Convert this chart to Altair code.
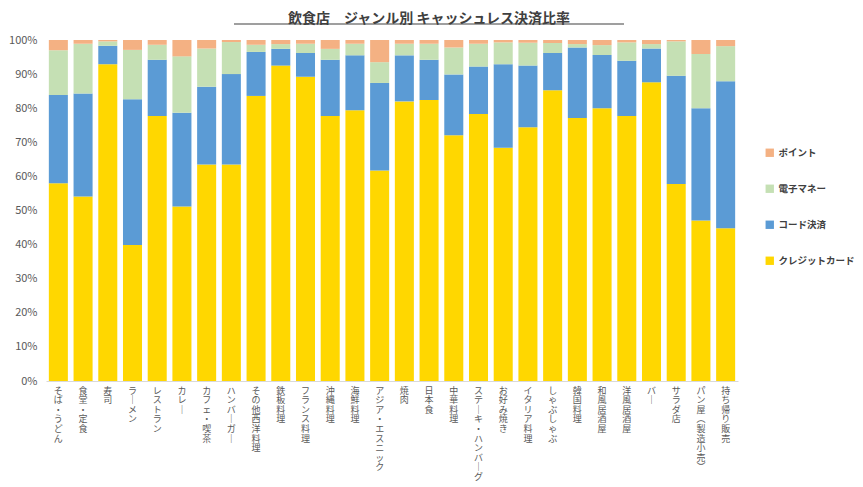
import pandas as pd
import altair as alt

FONT = "Noto Sans CJK JP"

genres = [
    "そば・うどん", "食堂・定食", "寿司", "ラーメン", "レストラン", "カレー",
    "カフェ・喫茶", "ハンバーガー", "その他西洋料理", "鉄板料理", "フランス料理",
    "沖縄料理", "海鮮料理", "アジア・エスニック", "焼肉", "日本食", "中華料理",
    "ステーキ・ハンバーグ", "お好み焼き", "イタリア料理", "しゃぶしゃぶ", "韓国料理",
    "和風居酒屋", "洋風居酒屋", "バー", "サラダ店", "パン屋（製造小売）", "持ち帰り販売",
]

# shares in %
credit = [58.0, 54.1, 92.9, 39.9, 77.7, 51.2, 63.5, 63.5, 83.6, 92.5, 89.2, 77.7, 79.4, 61.7,
          82.0, 82.4, 72.1, 78.3, 68.4, 74.4, 85.3, 77.1, 80.0, 77.7, 87.6, 57.8, 47.1, 44.8]
code = [25.9, 30.2, 5.4, 42.7, 16.5, 27.5, 22.8, 26.5, 12.9, 4.9, 7.0, 16.5, 16.1, 25.7,
        13.5, 11.8, 17.8, 13.9, 24.5, 18.1, 10.9, 20.7, 15.6, 16.2, 9.9, 31.7, 32.9, 43.1]
emoney = [13.1, 14.6, 1.3, 14.5, 4.4, 16.5, 11.2, 9.4, 2.1, 1.4, 2.7, 3.2, 3.4, 6.1,
          3.4, 4.7, 7.9, 6.7, 6.4, 6.7, 2.9, 1.0, 2.9, 5.4, 1.3, 10.1, 15.9, 10.3]
point = [3.0, 1.1, 0.4, 2.9, 1.4, 4.8, 2.5, 0.6, 1.4, 1.2, 1.1, 2.6, 1.1, 6.5,
         1.1, 1.1, 2.2, 1.1, 0.7, 0.8, 0.9, 1.2, 1.5, 0.7, 1.2, 0.4, 4.1, 1.8]

series = ["クレジットカード", "コード決済", "電子マネー", "ポイント"]
legend_order = ["ポイント", "電子マネー", "コード決済", "クレジットカード"]
colors = ["#F4B183", "#C5E0B4", "#5B9BD5", "#FFD700"]

rows = []
for k, vals in enumerate([credit, code, emoney, point]):
    for g, v in zip(genres, vals):
        rows.append({"genre": g, "method": series[k], "share": v, "stack": k})
df = pd.DataFrame(rows)

# vertical (tategaki) style labels: one character per line
label_expr = (
    "split(replace(replace(replace(datum.label, regexp('ー', 'g'), '｜'),"
    " '（', '︵'), '）', '︶'), '')"
)

bars = alt.Chart(df).mark_bar().encode(
    x=alt.X("genre:N", sort=genres, title=None,
            scale=alt.Scale(paddingInner=0.23, paddingOuter=0.115),
            axis=alt.Axis(labelAngle=0, labelExpr=label_expr, labelFontSize=9,
                          labelLineHeight=9.6, labelBaseline="top", labelAlign="center",
                          labelPadding=5, labelColor="#595959", ticks=False,
                          domainColor="#D9D9D9", labelLimit=0)),
    y=alt.Y("share:Q", stack="zero", title=None,
            scale=alt.Scale(domain=[0, 100], nice=False),
            axis=alt.Axis(values=list(range(0, 101, 10)), labelExpr="datum.value + '%'",
                          grid=False, domain=False, ticks=False, labelPadding=9,
                          labelFontSize=11, labelColor="#595959")),
    color=alt.Color("method:N", scale=alt.Scale(domain=legend_order, range=colors),
                    legend=alt.Legend(title=None, orient="none", legendX=719, legendY=108,
                                      symbolType="square", symbolSize=70, rowPadding=25,
                                      labelFontSize=9.5, labelOffset=4, padding=0,
                                      labelFontWeight="bold",
                                      labelColor="#404040", symbolStrokeWidth=0)),
    order=alt.Order("stack:Q", sort="ascending"),
)

underline = alt.Chart(pd.DataFrame({"a": [0]})).mark_rule(
    color="#404040", strokeWidth=1.2
).encode(x=alt.value(188), x2=alt.value(578), y=alt.value(-16))

chart = alt.layer(bars, underline).properties(
    width=692, height=341,
    title=alt.Title("飲食店　ジャンル別 キャッシュレス決済比率", fontSize=14, fontWeight="bold",
                    color="#404040", anchor="middle", dx=37, offset=-3),
    padding={"left": 0, "top": 4, "right": 0, "bottom": 0},
).configure(font=FONT).configure_view(stroke=None)

chart.save("out.html", embed_options={"renderer": "svg", "actions": False})
